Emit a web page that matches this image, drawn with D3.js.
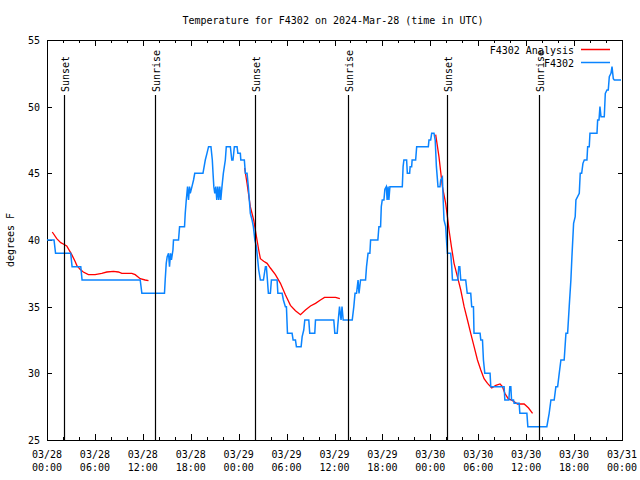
<!DOCTYPE html>
<html><head><meta charset="utf-8">
<script src="https://cdn.jsdelivr.net/npm/d3@7"></script>
<style>
body{margin:0;background:#fff;}
svg{display:block;}
text{font-family:"DejaVu Sans Mono","Liberation Mono",monospace;font-size:10px;fill:#000;}
</style></head>
<body>
<script>
// ---- data ----
const titleText = "Temperature for F4302 on 2024-Mar-28 (time in UTC)";
const yLabelText = "degrees F";
const startUTC = Date.UTC(2024, 2, 28, 0, 0);
const spanHours = 72;
const yTicks = [25, 30, 35, 40, 45, 50, 55];
const xMajorHours = [0, 6, 12, 18, 24, 30, 36, 42, 48, 54, 60, 66, 72];
const seriesNames = ["F4302 Analysis", "F4302"];
const seriesColors = ["#ff0000", "#0a84ff"];

// observations (hours since 03/28 00:00 UTC, deg F)
const obsHours = [0.00,0.88,1.07,2.97,3.14,4.23,4.39,11.67,11.88,14.71,14.80,14.93,15.05,15.22,15.34,15.47,15.58,15.77,15.84,16.47,
16.60,17.22,17.31,17.44,17.60,17.72,17.85,17.94,18.15,18.35,18.50,19.53,19.82,20.03,20.23,20.53,20.70,20.79,20.89,21.01,
21.14,21.26,21.39,21.51,21.64,21.76,21.91,22.08,22.33,22.45,22.96,23.14,23.29,23.46,23.80,23.90,24.21,24.27,24.71,24.84,
25.05,25.21,25.46,25.68,25.84,26.03,26.22,26.51,26.72,27.10,27.35,27.47,27.60,27.72,27.97,28.10,28.81,28.91,29.44,29.60,
29.85,29.98,30.11,30.69,30.82,31.11,31.23,31.82,31.95,32.15,32.28,32.78,32.90,33.53,33.62,35.91,36.04,36.34,36.41,36.63,
36.82,36.94,37.09,38.22,38.42,38.57,38.76,38.95,39.07,39.26,39.89,40.01,40.20,40.43,40.52,41.43,41.56,41.77,41.86,41.98,
42.19,42.31,42.49,42.59,42.71,42.81,42.94,44.49,44.59,44.69,45.03,45.12,45.41,45.47,45.66,45.72,46.16,46.29,47.75,47.83,
48.04,48.17,48.46,48.61,48.76,48.96,49.21,49.30,49.51,49.61,49.71,49.92,50.05,50.14,50.55,50.68,50.77,51.43,51.56,51.69,
51.81,52.43,52.62,53.06,53.18,53.40,53.47,54.23,54.32,54.53,54.65,54.82,55.48,55.57,57.24,57.33,57.83,57.95,58.08,58.17,
58.42,58.49,59.12,59.21,60.09,60.21,62.59,62.88,63.10,63.51,63.72,63.94,64.14,64.35,64.76,64.98,65.19,65.39,65.60,65.73,
65.94,66.14,66.23,66.65,66.77,66.95,67.11,67.28,67.61,67.70,67.90,67.99,68.87,68.95,69.12,69.24,69.37,69.78,69.91,70.12,
70.28,70.41,70.62,70.75,70.91,71.04,71.88];
const obsTemps = [40,40,39,39,38,38,37,37,36,36,37,38.25,38.75,39,38,39,38.5,39.25,40,40,
41,41,42,43,44,43,44,43.5,44,44.5,45,45,46,46.5,47,47,46,45,44,43.5,
44,43,44,43,44,43,44,45,46,47,47,46,46,47,47,46.5,46.5,46,46,45,
45,44,42,41.5,41,40,39.5,37.75,37,37,38,38,37,36,36,37,37,36,36,35.5,
35,35,33,33,32.5,32.5,32,32,32.75,33.25,34,34,33,33,34,34,33,33,33.6,35,
34,35,34,34,35,36,36,37,36,37,37,38,39,39,40,40,41,41,42.5,43,
43,43.8,44,43,44,43,44,44,45.5,46,46,45,45,45.5,45.5,46,46,47,47,47.5,
47.5,48,48,47.5,45.5,44,44,44.5,44.7,43,41.5,41,39.75,39,39,38,37,37,38,38,
37,37,36,36,35,35,33,33,32.5,32.5,31,30,30,29,29,28,28,29,29,28,
28,27.75,27.75,27,27,26,26,27,28,28,29,29,30,31,31,33,33,35,37,38.75,
41.25,41.75,43,43.5,45,45,45.75,46,46,47,47,48,48,49,49,50,49.25,49.25,51,51.25,
51.25,52.25,52.5,53,52.1,52,52];

// analysis (three separate runs; null marks a gap)
const anaHours = [0.66,1.22,1.72,2.04,2.47,3.10,3.51,3.73,4.14,4.55,5.18,6.02,6.86,7.49,8.32,8.94,9.37,10.62,11.04,11.67,12.29,12.71,
null,
24.75,25.05,25.46,25.88,26.09,26.30,26.51,26.72,27.13,27.56,27.97,28.60,29.23,29.85,30.48,31.11,31.74,32.36,32.99,33.62,34.24,34.75,36.13,36.67,
null,
48.67,49.08,49.51,49.92,50.14,50.34,50.64,50.97,51.39,51.81,52.23,52.65,53.06,53.48,53.90,54.32,54.73,55.16,55.69,56.20,56.73,57.03,57.33,57.75,58.29,58.92,59.75,60.30,60.80];
const anaTemps = [40.6,40.1,39.8,39.7,39.55,38.9,38.4,38.1,37.8,37.6,37.4,37.4,37.5,37.6,37.65,37.6,37.5,37.5,37.4,37.1,37.0,36.95,
null,
45.4,44.25,42.5,41.5,40.75,40,39.25,38.6,38.4,38.25,37.9,37.4,36.75,35.9,35.1,34.7,34.4,34.75,35.05,35.25,35.5,35.7,35.7,35.6,
null,
47.9,46.25,44,42.75,41.75,40.75,39.5,38.25,37.25,36.25,35,34,33,32,31,30.25,29.6,29.25,28.9,29.1,29.2,29,28.5,28.1,27.95,27.7,27.7,27.4,27];

// sun events
const sunHours = [2.13, 13.55, 26.09, 37.63, 50.05, 61.59];
const sunLabels = ["Sunset", "Sunrise", "Sunset", "Sunrise", "Sunset", "Sunrise"];

// ---- drawing ----
const W = 640, H = 480;
const L = 47, R = 622, T = 40, B = 440;
const hr = h => new Date(startUTC + h * 3600000);

const svg = d3.select("body").append("svg").attr("width", W).attr("height", H);
const x = d3.scaleUtc().domain([hr(0), hr(spanHours)]).range([L, R]);
const y = d3.scaleLinear().domain([25, 55]).range([B, T]);

// title
svg.append("text").attr("x", 333).attr("y", 24).attr("text-anchor", "middle").text(titleText);
// y label
svg.append("text").attr("transform", `translate(14,240) rotate(-90)`).attr("text-anchor", "middle").text(yLabelText);

// frame
svg.append("rect").attr("x", L + 0.5).attr("y", T + 0.5).attr("width", R - L).attr("height", B - T)
  .attr("fill", "none").attr("stroke", "#000").attr("stroke-width", 1);

// y ticks
const gy = svg.append("g");
yTicks.forEach(v => {
  const yy = Math.round(y(v)) + 0.5;
  gy.append("line").attr("x1", L).attr("x2", L + 5).attr("y1", yy).attr("y2", yy).attr("stroke", "#000");
  gy.append("line").attr("x1", R + 1).attr("x2", R - 4).attr("y1", yy).attr("y2", yy).attr("stroke", "#000");
  gy.append("text").attr("x", 40).attr("y", yy + 3.5).attr("text-anchor", "end").text(v);
});

// x ticks: minor every 2 h, major every 6 h
const minorTicks = d3.range(0, spanHours + 1, 2).filter(h => !xMajorHours.includes(h));
const gx = svg.append("g");
minorTicks.forEach(h => {
  const xx = Math.round(x(hr(h))) + 0.5;
  gx.append("line").attr("x1", xx).attr("x2", xx).attr("y1", B).attr("y2", B - 3).attr("stroke", "#000");
  gx.append("line").attr("x1", xx).attr("x2", xx).attr("y1", T).attr("y2", T + 3).attr("stroke", "#000");
});
const fmtD = d3.utcFormat("%m/%d"), fmtT = d3.utcFormat("%H:%M");
xMajorHours.forEach(h => {
  const d = hr(h);
  const xx = Math.round(x(d)) + 0.5;
  gx.append("line").attr("x1", xx).attr("x2", xx).attr("y1", B).attr("y2", B - 6).attr("stroke", "#000");
  gx.append("line").attr("x1", xx).attr("x2", xx).attr("y1", T).attr("y2", T + 6).attr("stroke", "#000");
  gx.append("text").attr("x", x(d)).attr("y", 458).attr("text-anchor", "middle").text(fmtD(d));
  gx.append("text").attr("x", x(d)).attr("y", 471).attr("text-anchor", "middle").text(fmtT(d));
});

// series
const anaData = anaHours.map((h, i) => ({h, v: anaTemps[i]}));
const obsData = obsHours.map((h, i) => ({h, v: obsTemps[i]}));
const line = d3.line().defined(d => d.h != null && d.v != null).x(d => x(hr(d.h))).y(d => y(d.v));

svg.append("path").datum(anaData).attr("d", line).attr("fill", "none")
  .attr("stroke", seriesColors[0]).attr("stroke-width", 1.3);
svg.append("path").datum(obsData).attr("d", line).attr("fill", "none")
  .attr("stroke", seriesColors[1]).attr("stroke-width", 1.5);

// sun event lines and labels
sunHours.forEach((h, i) => {
  const xx = Math.round(x(hr(h))) + 0.5;
  svg.append("line").attr("x1", xx).attr("x2", xx).attr("y1", 95).attr("y2", B).attr("stroke", "#000").attr("stroke-width", 1.2);
  svg.append("text").attr("transform", `translate(${xx + 4},92) rotate(-90)`).attr("text-anchor", "start").text(sunLabels[i]);
});

// legend
const legY = [50, 63];
seriesNames.forEach((n, i) => {
  svg.append("text").attr("x", 574).attr("y", legY[i] + 3.5).attr("text-anchor", "end").text(n);
  svg.append("line").attr("x1", 581).attr("x2", 610).attr("y1", legY[i] - 0.5).attr("y2", legY[i] - 0.5)
    .attr("stroke", seriesColors[i]).attr("stroke-width", 1.5);
});
</script>
</body></html>
